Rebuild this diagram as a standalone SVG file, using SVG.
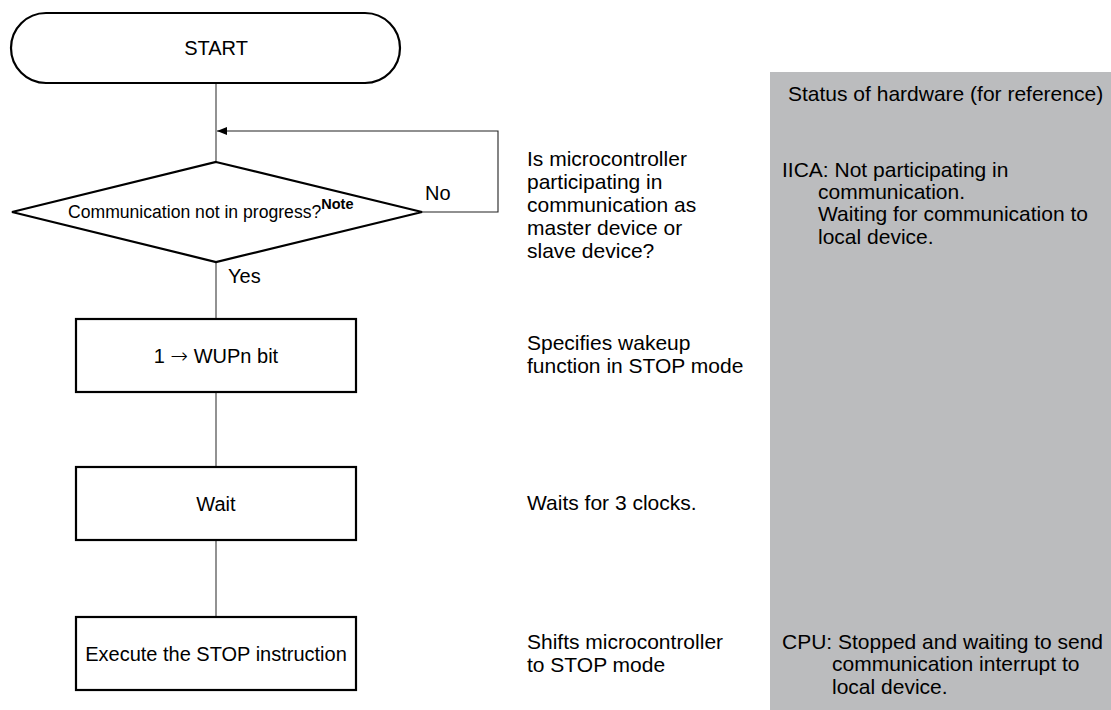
<svg xmlns="http://www.w3.org/2000/svg" width="1111" height="710" viewBox="0 0 1111 710">
  <style>
    .shape { fill: #fff; stroke: #000; stroke-width: 2.2; }
    .flow { fill: none; stroke: #6e6e6e; stroke-width: 1.5; }
    .loop { fill: none; stroke: #222; stroke-width: 1.1; }
    text { font-family: "Liberation Sans", Arial, Helvetica, sans-serif; fill: #000; }
    .box { font-size: 20px; text-anchor: middle; }
    .sym { font-family: "DejaVu Sans", sans-serif; font-size: 21px; font-weight: 200; }
    .cond { font-size: 17.6px; }
    .note { font-size: 14.5px; font-weight: bold; }
    .lbl { font-size: 20px; }
    .ann { font-size: 21px; }
  </style>
  <defs>
    <marker id="arrow" markerWidth="10" markerHeight="8" refX="10" refY="4" orient="auto" markerUnits="userSpaceOnUse">
      <path d="M0,0 L10,4 L0,8 Z" fill="#000"/>
    </marker>
  </defs>

  <!-- hardware status panel -->
  <rect id="status-panel" x="770" y="72" width="341" height="638" fill="#bbbcbe"/>

  <!-- connectors -->
  <g id="connectors">
    <line class="flow" x1="216" y1="83" x2="216" y2="162"/>
    <line class="flow" x1="216" y1="262" x2="216" y2="319"/>
    <line class="flow" x1="216" y1="392" x2="216" y2="467"/>
    <line class="flow" x1="216" y1="540" x2="216" y2="617"/>
    <polyline class="loop" points="422,212 498,212 498,131 217,131" marker-end="url(#arrow)"/>
    <text class="lbl" x="425" y="200">No</text>
    <text class="lbl" x="228" y="283">Yes</text>
  </g>

  <!-- flowchart nodes -->
  <g id="start">
    <rect class="shape" x="11" y="13" width="389" height="70" rx="35" ry="35"/>
    <text class="box" x="216" y="55">START</text>
  </g>

  <g id="check-comm">
    <polygon class="shape" points="216,162 422,212 216,262 12,212"/>
    <text class="cond" x="68" y="218">Communication not in progress?<tspan class="note" dy="-9">Note</tspan></text>
  </g>

  <g id="set-wupn">
    <rect class="shape" x="76" y="319" width="280" height="73"/>
    <text class="box" x="216" y="363">1 <tspan class="sym">→</tspan> WUPn bit</text>
  </g>

  <g id="wait">
    <rect class="shape" x="76" y="467" width="280" height="73"/>
    <text class="box" x="216" y="511">Wait</text>
  </g>

  <g id="stop">
    <rect class="shape" x="76" y="617" width="280" height="73"/>
    <text class="box" x="216" y="661">Execute the STOP instruction</text>
  </g>

  <!-- step descriptions -->
  <g id="desc-check">
    <text class="ann" x="527" y="166">Is microcontroller</text>
    <text class="ann" x="527" y="189">participating in</text>
    <text class="ann" x="527" y="212">communication as</text>
    <text class="ann" x="527" y="235">master device or</text>
    <text class="ann" x="527" y="258">slave device?</text>
  </g>
  <g id="desc-wupn">
    <text class="ann" x="527" y="350">Specifies wakeup</text>
    <text class="ann" x="527" y="373">function in STOP mode</text>
  </g>
  <g id="desc-wait">
    <text class="ann" x="527" y="510">Waits for 3 clocks.</text>
  </g>
  <g id="desc-stop">
    <text class="ann" x="527" y="649">Shifts microcontroller</text>
    <text class="ann" x="527" y="672">to STOP mode</text>
  </g>

  <!-- hardware status texts -->
  <g id="status-texts">
    <text class="ann" x="788" y="101">Status of hardware (for reference)</text>
    <text class="ann" x="782" y="177">IICA: Not participating in</text>
    <text class="ann" x="818" y="199">communication.</text>
    <text class="ann" x="818" y="221">Waiting for communication to</text>
    <text class="ann" x="818" y="244">local device.</text>
    <text class="ann" x="782" y="649">CPU: Stopped and waiting to send</text>
    <text class="ann" x="832" y="671">communication interrupt to</text>
    <text class="ann" x="832" y="694">local device.</text>
  </g>
</svg>
